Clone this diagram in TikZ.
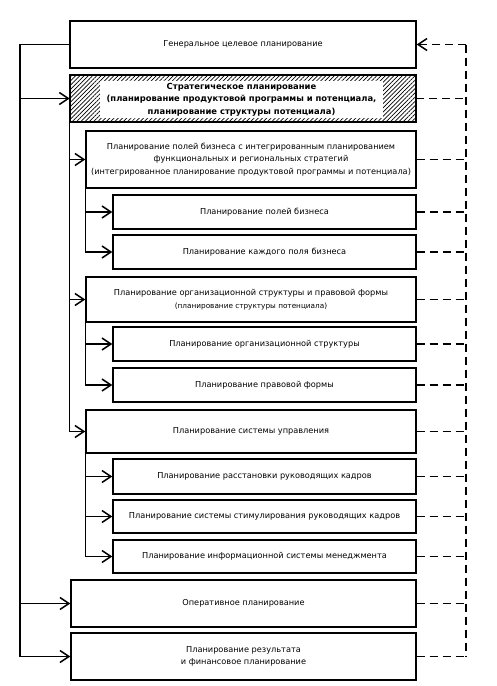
\documentclass[tikz,border=0pt]{standalone}
\usepackage{fontspec}
\setmainfont{DejaVu Sans}
\usetikzlibrary{arrows.meta,patterns.meta}
\begin{document}
\begin{tikzpicture}[x=1pt,y=-1pt,
  box/.style={draw,line width=1.4pt,inner sep=0pt,align=center,
    font=\fontsize{8.2}{12.5}\selectfont},
  conn/.style={line width=1.1pt},
  arr/.style={line width=1.1pt,-{Straight Barb[length=9pt,width=12pt,line width=1.5pt]}},
  dsh/.style={line width=1.1pt,dash pattern=on 8pt off 5pt},
  dsharr/.style={dsh,-{Straight Barb[length=9pt,width=12pt,line width=1.5pt]}}
]
\useasboundingbox (0,0) rectangle (497,686);
\fill[white] (0,0) rectangle (497,686);

\node[box,minimum width=346pt,minimum height=47pt] (gen) at (243,44.5) {Генеральное целевое планирование};
\node[box,minimum width=346pt,minimum height=47pt,pattern={Lines[angle=45,distance=3pt,line width=0.7pt]}] (strat) at (243,98.5) {};
\node[fill=white,inner sep=0pt,minimum width=283pt,minimum height=37pt,align=center,
  font=\fontsize{8.4}{12.5}\selectfont\bfseries] (strattxt) at (241.5,99.5)
  {Стратегическое планирование\\(планирование продуктовой программы и потенциала,\\планирование структуры потенциала)};

\node[box,minimum width=330pt,minimum height=57pt] (fields) at (251,159.5)
  {Планирование полей бизнеса с интегрированным планированием\\функциональных и региональных стратегий\\(интегрированное планирование продуктовой программы и потенциала)};
\node[box,minimum width=303pt,minimum height=34pt] (f1) at (264.5,212) {Планирование полей бизнеса};
\node[box,minimum width=303pt,minimum height=34pt] (f2) at (264.5,252) {Планирование каждого поля бизнеса};

\node[box,minimum width=330pt,minimum height=45pt] (org) at (251,299.5)
  {Планирование организационной структуры и правовой формы\\{\fontsize{7.3}{10}\selectfont (планирование структуры потенциала)}};
\node[box,minimum width=303pt,minimum height=34pt] (o1) at (264.5,344) {Планирование организационной структуры};
\node[box,minimum width=303pt,minimum height=34pt] (o2) at (264.5,385) {Планирование правовой формы};

\node[box,minimum width=330pt,minimum height=43pt] (sys) at (251,431.5) {Планирование системы управления};
\node[box,minimum width=303pt,minimum height=35pt] (s1) at (264.5,476.5) {Планирование расстановки руководящих кадров};
\node[box,minimum width=303pt,minimum height=33pt] (s2) at (264.5,516.5) {Планирование системы стимулирования руководящих кадров};
\node[box,minimum width=303pt,minimum height=33pt] (s3) at (264.5,556.5) {Планирование информационной системы менеджмента};

\node[box,minimum width=345pt,minimum height=47pt] (oper) at (243.5,603.5) {Оперативное планирование};
\node[box,minimum width=345pt,minimum height=47pt] (res) at (243.5,656.5) {Планирование результата\\и финансовое планирование};

% left trunk
\coordinate (trunk) at (20,0);
\draw[conn] (gen.west) -| (trunk |- res.west);
\draw[arr] (trunk |- res.west) -- (res.west);
\draw[arr] (trunk |- strat.west) -- (strat.west);
\draw[arr] (trunk |- oper.west) -- (oper.west);

% second trunk
\draw[arr] (strat.south west) |- (sys.west);
\draw[arr] (strat.south west |- fields.west) -- (fields.west);
\draw[arr] (strat.south west |- org.west) -- (org.west);

% sub trunks
\draw[arr] (fields.south west) |- (f2.west);
\draw[arr] (fields.south west |- f1.west) -- (f1.west);
\draw[arr] (org.south west) |- (o2.west);
\draw[arr] (org.south west |- o1.west) -- (o1.west);
\draw[arr] (sys.south west) |- (s3.west);
\draw[arr] (sys.south west |- s1.west) -- (s1.west);
\draw[arr] (sys.south west |- s2.west) -- (s2.west);

% right dashed feedback
\coordinate (rt) at (466,0);
\draw[dsharr] (rt |- gen.east) -- (gen.east);
\draw[dsh] (rt |- gen.east) -- (rt |- res.east);
\foreach \b in {strat,fields,f1,f2,org,o1,o2,sys,s1,s2,s3,oper,res}
  \draw[dsh] (\b.east) -- (rt |- \b.east);
\end{tikzpicture}
\end{document}
